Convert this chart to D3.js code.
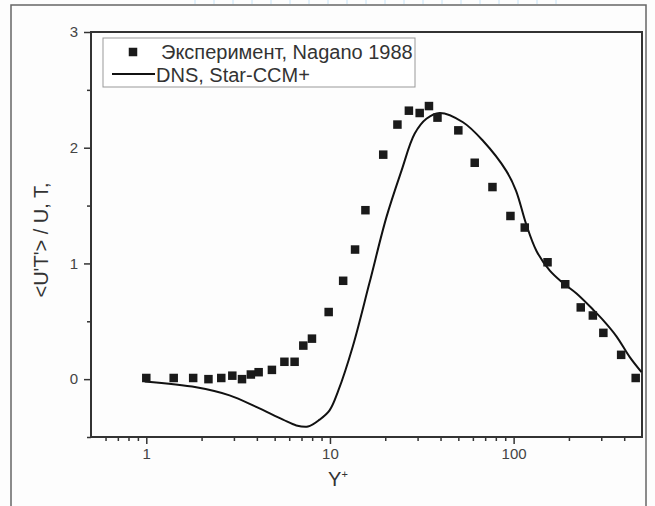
<!DOCTYPE html>
<html>
<head>
<meta charset="utf-8">
<script src="https://cdn.jsdelivr.net/npm/d3@7"></script>
<style>
  body { margin: 0; background: #fdfdfd; }
  text { font-family: "Liberation Sans", Arial, sans-serif; }
</style>
</head>
<body>
<script>
var width = 655;
var height = 506;

// эксперимент (Nagano 1988)
var expY = [1.0, 1.41, 1.8, 2.18, 2.56, 2.94, 3.32, 3.71, 4.09, 4.83, 5.65, 6.42, 7.16, 7.98, 9.84,
  11.8, 13.7, 15.6, 19.5, 23.3, 26.9, 30.8, 34.6, 38.5, 50.0, 61.4, 76.7, 96.1, 115, 153, 191, 232, 270, 308, 385, 462];
var expV = [0.01, 0.01, 0.01, 0.0, 0.01, 0.03, 0.0, 0.04, 0.06, 0.08, 0.15, 0.15, 0.29, 0.35, 0.58,
  0.85, 1.12, 1.46, 1.94, 2.20, 2.32, 2.30, 2.36, 2.26, 2.15, 1.87, 1.66, 1.41, 1.31, 1.01, 0.82, 0.62, 0.55, 0.40, 0.21, 0.01];

// DNS, Star-CCM+
var dnsY = [0.98, 1.87, 2.84, 3.97, 5.55, 6.56, 7.59, 8.79, 9.95, 11.1, 13.3, 16.4, 20.3, 24.5, 28.9, 33.5, 39.6,
  53.0, 68.1, 91.2, 103, 117, 133, 157, 186, 220, 271, 307, 363, 429, 497];
var dnsV = [-0.02, -0.07, -0.14, -0.24, -0.35, -0.40, -0.41, -0.35, -0.27, -0.10, 0.28, 0.83, 1.40, 1.80, 2.12, 2.25, 2.30,
  2.22, 2.06, 1.80, 1.63, 1.34, 1.11, 0.94, 0.83, 0.74, 0.60, 0.51, 0.37, 0.19, 0.06];

var xMajor = [1, 10, 100];
var xMinor = [0.6, 0.7, 0.8, 0.9, 2, 3, 4, 5, 6, 7, 8, 9, 20, 30, 40, 50, 60, 70, 80, 90, 200, 300, 400];
var yMajor = [0, 1, 2, 3];
var yMinor = [-0.5, 0.5, 1.5, 2.5];

var legendNames = ["Эксперимент, Nagano 1988", "DNS, Star-CCM+"];

var svg = d3.select("body").append("svg")
    .attr("width", width)
    .attr("height", height);

// внешняя рамка страницы
svg.append("rect")
    .attr("x", 11).attr("y", 5)
    .attr("width", 635).attr("height", 520)
    .attr("fill", "none")
    .attr("stroke", "#666")
    .attr("stroke-width", 1.5);

// голубые штрихи сверху
svg.selectAll(".blue")
    .data(d3.range(20))
    .enter().append("line")
    .attr("x1", function (d) { return 195 + d * 19; })
    .attr("x2", function (d) { return 195 + d * 19; })
    .attr("y1", 0).attr("y2", 4)
    .attr("stroke", "#c6e3f7")
    .attr("stroke-width", 1);

var padding = { left: 91, right: 642, top: 32, bottom: 437 };

var x = d3.scaleLog()
    .domain([0.5, 500])
    .range([padding.left, padding.right]);

var y = d3.scaleLinear()
    .domain([-0.5, 3])
    .range([padding.bottom, padding.top]);

// оси
svg.append("g")
    .attr("transform", "translate(0," + padding.bottom + ")")
    .call(d3.axisBottom(x).tickValues(xMajor).tickSize(7).tickPadding(4).tickFormat(d3.format("d")));
svg.append("g")
    .attr("transform", "translate(0," + padding.bottom + ")")
    .call(d3.axisBottom(x).tickValues(xMinor).tickSize(4).tickFormat(""));

svg.append("g")
    .attr("transform", "translate(" + padding.left + ",0)")
    .call(d3.axisLeft(y).tickValues(yMajor).tickSize(7).tickPadding(6).tickFormat(d3.format("d")));
svg.append("g")
    .attr("transform", "translate(" + padding.left + ",0)")
    .call(d3.axisLeft(y).tickValues(yMinor).tickSize(4).tickFormat(""));

svg.selectAll(".domain").remove();
svg.selectAll(".tick line").attr("stroke", "#333").attr("stroke-width", 1.5);
svg.selectAll(".tick text")
    .attr("fill", "#444")
    .style("font-size", "15px");

// рамка графика
svg.append("rect")
    .attr("x", padding.left).attr("y", padding.top)
    .attr("width", padding.right - padding.left)
    .attr("height", padding.bottom - padding.top)
    .attr("fill", "none")
    .attr("stroke", "#333")
    .attr("stroke-width", 2);

// линия DNS
var dns = dnsY.map(function (d, i) { return [d, dnsV[i]]; });
svg.append("path")
    .datum(dns)
    .attr("fill", "none")
    .attr("stroke", "#111")
    .attr("stroke-width", 2)
    .attr("d", d3.line()
        .x(function (d) { return x(d[0]); })
        .y(function (d) { return y(d[1]); })
        .curve(d3.curveCatmullRom));

// точки эксперимента
var s = 8.5;
svg.selectAll(".pt")
    .data(expY)
    .enter().append("rect")
    .attr("class", "pt")
    .attr("x", function (d) { return x(d) - s / 2; })
    .attr("y", function (d, i) { return y(expV[i]) - s / 2; })
    .attr("width", s).attr("height", s)
    .attr("fill", "#1a1a1a");

// легенда
var lg = svg.append("g");
lg.append("rect")
    .attr("x", 103).attr("y", 38)
    .attr("width", 312).attr("height", 49)
    .attr("fill", "#fff")
    .attr("stroke", "#999")
    .attr("stroke-width", 1);
lg.append("rect")
    .attr("x", 133 - s / 2).attr("y", 52 - s / 2)
    .attr("width", s).attr("height", s)
    .attr("fill", "#1a1a1a");
lg.append("line")
    .attr("x1", 112).attr("x2", 155)
    .attr("y1", 74).attr("y2", 74)
    .attr("stroke", "#111").attr("stroke-width", 2);
lg.selectAll(".lt")
    .data(legendNames)
    .enter().append("text")
    .attr("x", function (d, i) { return i == 0 ? 161 : 156; })
    .attr("y", function (d, i) { return i == 0 ? 59 : 82; })
    .attr("fill", "#333")
    .style("font-size", "20px")
    .text(function (d) { return d; });

// подписи осей
svg.append("text")
    .attr("x", 338).attr("y", 486)
    .attr("text-anchor", "middle")
    .attr("fill", "#333")
    .style("font-size", "20px")
    .html("Y<tspan dy='-8' style='font-size:11px'>+</tspan>");

svg.append("text")
    .attr("transform", "translate(48,240) rotate(-90)")
    .attr("text-anchor", "middle")
    .attr("fill", "#333")
    .style("font-size", "20px")
    .text("<U'T'> / U, T,");
</script>
</body>
</html>
